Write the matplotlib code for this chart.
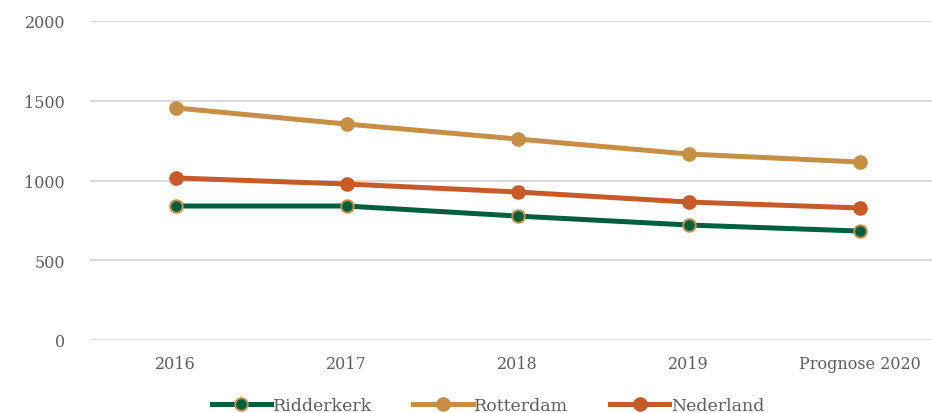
import matplotlib
matplotlib.use("Agg")
import matplotlib.pyplot as plt

categories = ["2016", "2017", "2018", "2019", "Prognose 2020"]
ridderkerk = [840, 840, 777, 721, 683]
rotterdam = [1455, 1354, 1260, 1166, 1116]
nederland = [1016, 978, 928, 865, 828]

green = "#00603E"
tan = "#C68F45"
orange = "#C85A27"
grey = "#5F5F5F"

plt.rcParams["font.family"] = ["DejaVu Serif"]

fig = plt.figure(figsize=(9.32, 4.14), dpi=100)
ax = fig.add_axes([90 / 932, 73 / 414, 855 / 932, 319 / 414])

x = range(len(categories))
ax.plot(x, ridderkerk, color=green, lw=3.6, marker="o", ms=9,
        mfc=green, mec=tan, mew=1.4, label="Ridderkerk", zorder=3)
ax.plot(x, rotterdam, color=tan, lw=3.6, marker="o", ms=9.5,
        mfc=tan, mec=tan, label="Rotterdam", zorder=3)
ax.plot(x, nederland, color=orange, lw=3.6, marker="o", ms=9.5,
        mfc=orange, mec=orange, label="Nederland", zorder=3)

ax.set_xlim(-0.5, 4.5)
ax.set_ylim(0, 2000)
ax.set_yticks([0, 500, 1000, 1500, 2000])
ax.set_xticks(list(x))
ax.set_xticklabels(categories)
ax.grid(axis="y", color="#D9D9D9", lw=1.4)
ax.set_axisbelow(True)
for s in ax.spines.values():
    s.set_visible(False)
ax.tick_params(length=0, labelsize=11.5, colors=grey)
ax.tick_params(axis="x", pad=11)
ax.tick_params(axis="y", pad=18)

fig.legend(loc="lower center", ncol=3, frameon=False, fontsize=12.5,
           bbox_to_anchor=(488 / 932, -0.04), handlelength=3.4,
           handletextpad=0.1, columnspacing=2.4, labelcolor=grey)

fig.savefig("out.png", dpi=100)
